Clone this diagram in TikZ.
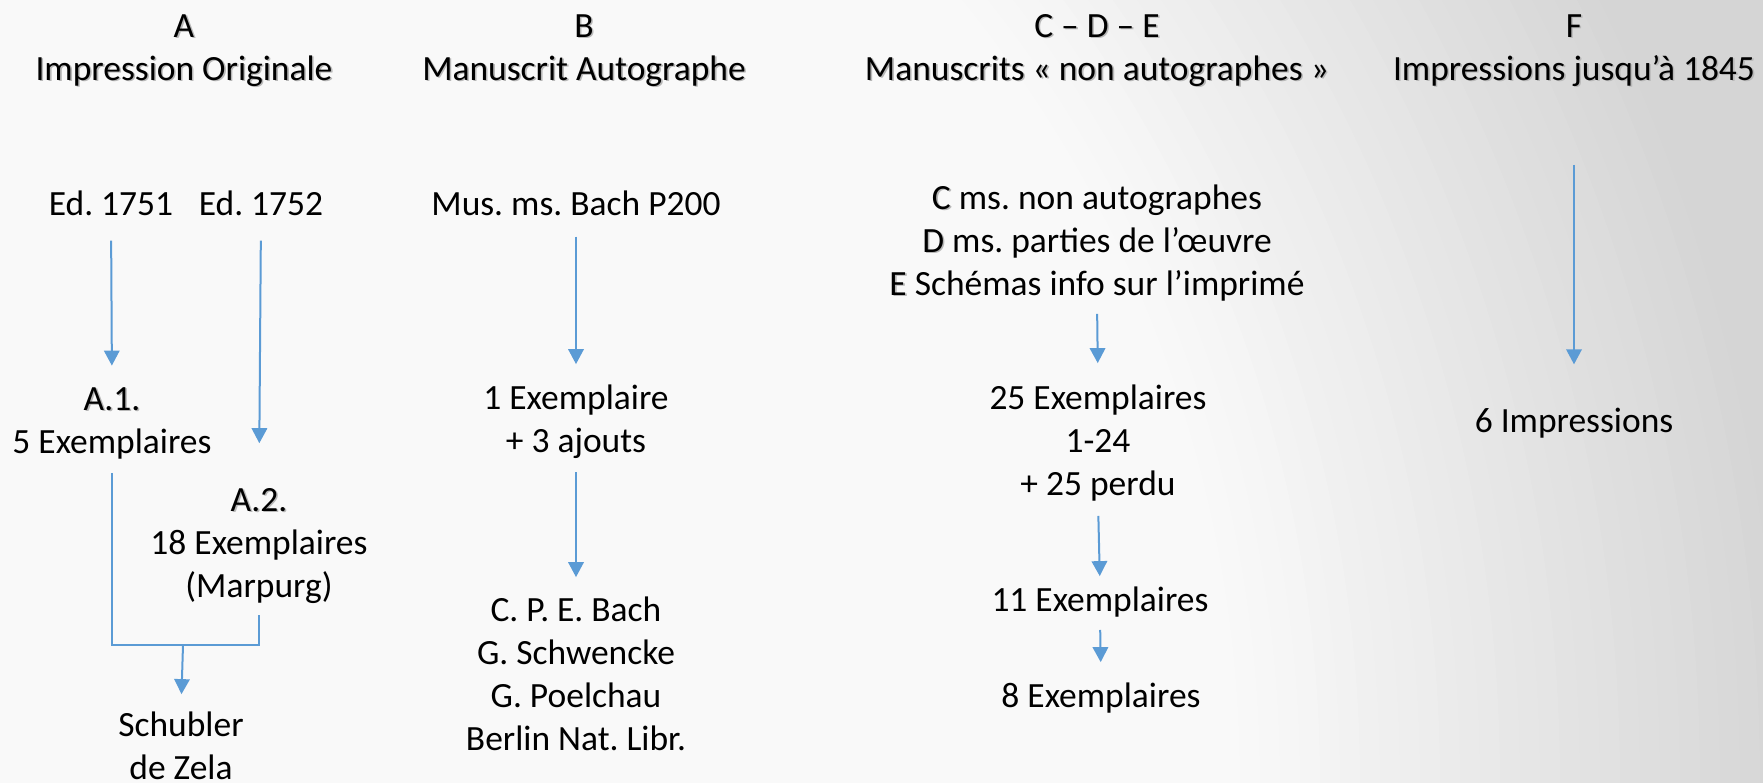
\documentclass[tikz,border=0pt]{standalone}
\usepackage{fontspec}
\setmainfont{Carlito}
\usetikzlibrary{arrows.meta}
\frenchspacing

\definecolor{arrblue}{RGB}{91,155,213}
\definecolor{bglight}{RGB}{249,249,249}
\definecolor{bgdark}{RGB}{213,213,213}
% soft drop shadow behind a word
\newcommand{\shd}[1]{\makebox[0pt][l]{\kern1.2pt\raisebox{-1.2pt}{\textcolor{black!28}{#1}}}#1}

\begin{document}
\begin{tikzpicture}[x=0.75pt,y=0.75pt,yscale=-1,xscale=1,
  txt/.style={anchor=base,inner sep=0pt,align=center,font=\fontsize{26.6}{32.25}\selectfont},
  arr/.style={draw=arrblue,line width=1.5pt,-{Triangle[width=11.6pt,length=11.25pt]}},
  conn/.style={draw=arrblue,line width=1pt}]
\useasboundingbox (0,0) rectangle (1763,782);

%Background: radial fade from the lower left corner
\begin{scope}
\clip (0,0) rectangle (1763,782);
\fill[bgdark] (0,0) rectangle (1763,782);
\foreach \r in {1800,1780,...,1240}{
  \pgfmathsetmacro\pct{min(100,max(0,(\r-1250)/5.5))}
  \fill[bgdark!\pct!bglight] (0,782) circle [radius=\r];
}
\end{scope}

% Text Node (placed on the baseline of the last line)
\node (hdA) at (184,80) [txt] {\shd{A}\\\shd{Impression Originale}};
% Text Node
\node (hdB) at (584,80) [txt] {\shd{B}\\\shd{Manuscrit Autographe}};
% Text Node
\node (hdC) at (1097,80) [txt] {\shd{C – D – E}\\\shd{Manuscrits «~non autographes~»}};
% Text Node
\node (hdF) at (1574,80) [txt] {\shd{F}\\\shd{Impressions jusqu’à 1845}};

% Text Node
\node (ed51) at (111,215) [txt] {Ed. 1751};
% Text Node
\node (ed52) at (261,215) [txt] {Ed. 1752};
% Text Node
\node (a1) at (112,453) [txt] {\shd{A.1.}\\5 Exemplaires};
% Text Node
\node (a2) at (259,597) [txt] {\shd{A.2.}\\18 Exemplaires\\(Marpurg)};
% Text Node
\node (schub) at (181,779) [txt] {Schubler\\de Zela};

% Text Node
\node (musms) at (576,215) [txt] {Mus. ms. Bach P200};
% Text Node
\node (bex) at (576,452) [txt] {1 Exemplaire\\+ 3 ajouts};
% Text Node
\node (bown) at (576,750) [txt] {C. P. E. Bach\\G. Schwencke\\G. Poelchau\\Berlin Nat. Libr.};

% Text Node
\node (cde) at (1097,295) [txt] {\shd{C} ms. non autographes\\\shd{D} ms. parties de l’œuvre\\\shd{E} Schémas info sur l’imprimé};
% Text Node
\node (c25) at (1098,495) [txt] {25 Exemplaires\\1-24\\+ 25 perdu};
% Text Node
\node (c11) at (1100,611) [txt] {11 Exemplaires};
% Text Node
\node (c8) at (1101,707) [txt] {8 Exemplaires};

% Text Node
\node (fimp) at (1574,432) [txt] {6 Impressions};

\coordinate (merge) at (183,645);

%Straight Lines
\draw [arr,shorten <=18.75pt,shorten >=16pt] (ed51.south) -- (a1.north);
%Straight Lines
\draw [arr,shorten <=18.75pt,shorten >=33.4pt] (ed52.south) -- (a2.north);
%Straight Lines
\draw [conn,shorten <=10.5pt,shorten >=9pt] (a1.south) |- (merge) -| (a2.south);
%Straight Lines
\draw [arr,shorten >=12.75pt] (merge) -- (schub.north);
%Straight Lines
\draw [arr,shorten <=15.75pt,shorten >=15pt] (musms.south) -- (bex.north);
%Straight Lines
\draw [arr,shorten <=10.5pt,shorten >=14.25pt] (bex.south) -- (bown.north);
%Straight Lines
\draw [arr,shorten <=9.75pt,shorten >=15.75pt] (cde.south) -- (c25.north);
%Straight Lines
\draw [arr,shorten <=11.25pt,shorten >=7.5pt] (c25.south) -- (c11.north);
%Straight Lines
\draw [arr,shorten <=9.75pt,shorten >=15pt] (c11.south) -- (c8.north);
%Straight Lines
\draw [arr,shorten <=57.75pt,shorten >=32.25pt] (hdF.south) -- (fimp.north);

\end{tikzpicture}
\end{document}
